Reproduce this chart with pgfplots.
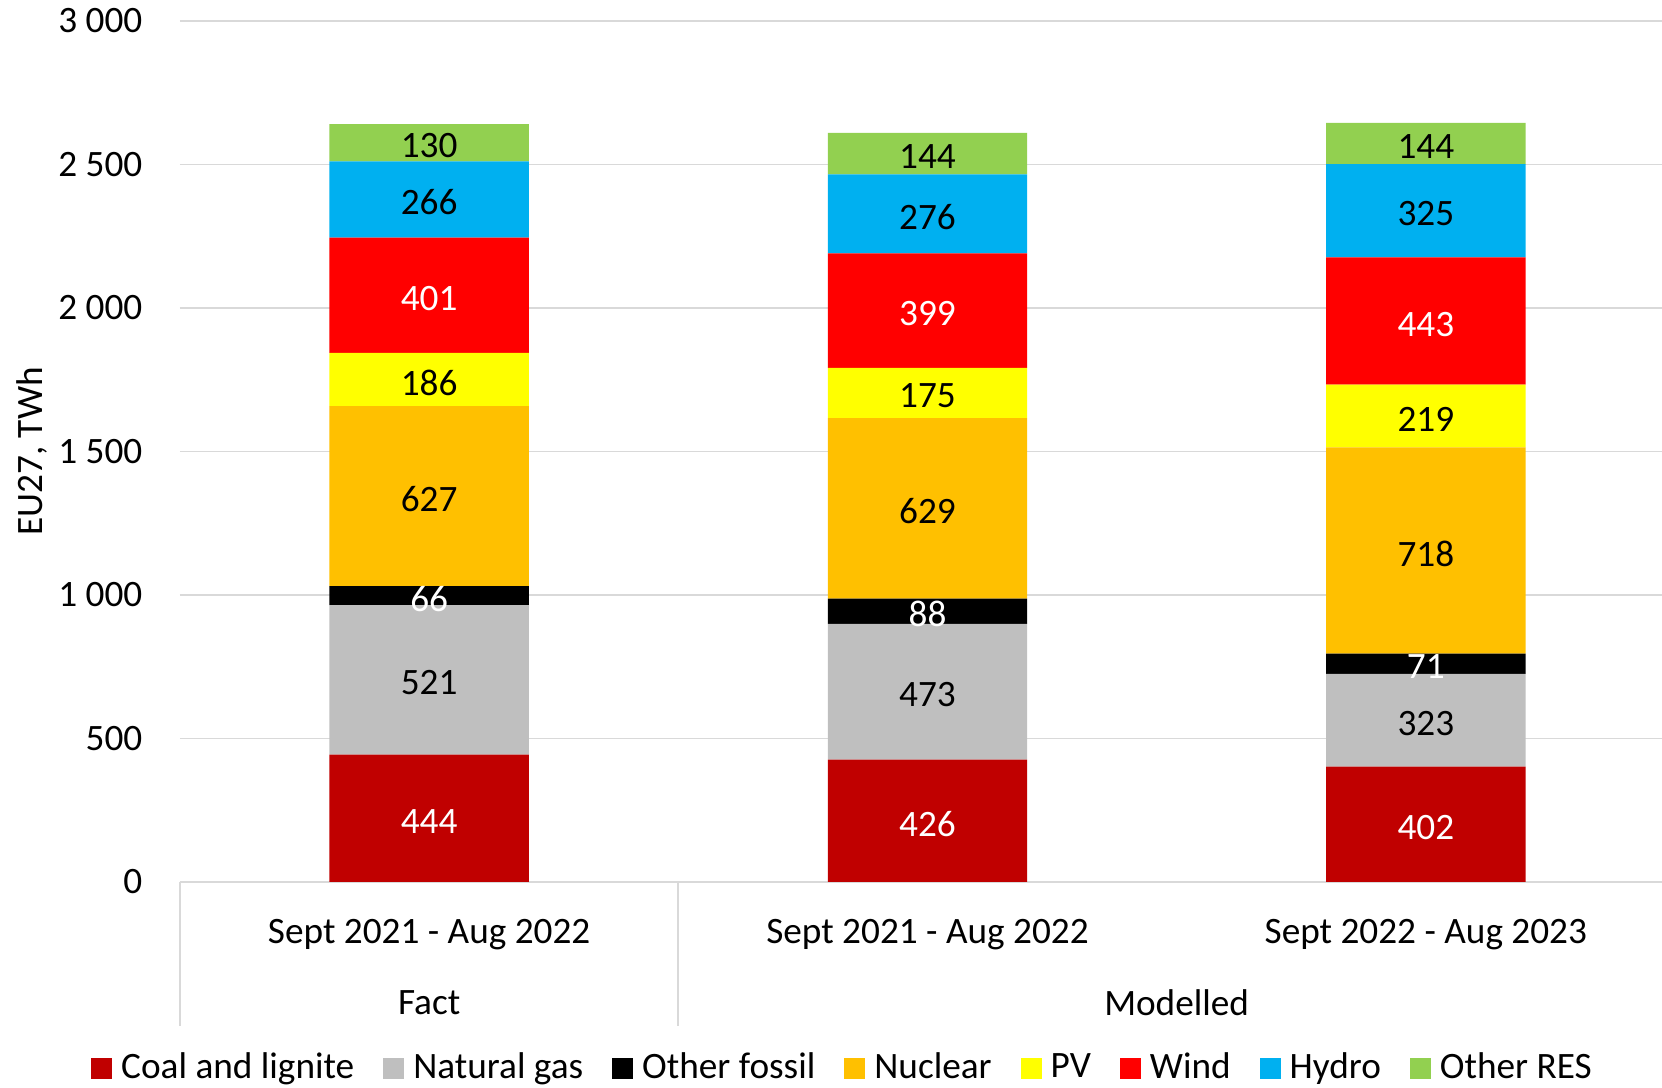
\documentclass[border=0pt]{standalone}
\usepackage{fontspec}
\setmainfont{Carlito}
\usepackage{pgfplots}
\pgfplotsset{compat=1.18}
\definecolor{cCoal}{HTML}{C00000}
\definecolor{cGas}{HTML}{BFBFBF}
\definecolor{cFossil}{HTML}{000000}
\definecolor{cNuc}{HTML}{FFC000}
\definecolor{cPV}{HTML}{FFFF00}
\definecolor{cWind}{HTML}{FF0000}
\definecolor{cHydro}{HTML}{00B0F0}
\definecolor{cRES}{HTML}{92D050}
\definecolor{gridc}{HTML}{D9D9D9}
\pgfplotsset{
  common/.style={
    at={(18mm,20.6mm)}, anchor=south west,
    width=149.5mm, height=86.1mm, scale only axis,
    xmin=-0.5, xmax=2.5, ymin=0, ymax=3000,
  },
  lbl/.style={draw=none, mark=none, nodes near coords, point meta=explicit symbolic,
    every node near coord/.append style={anchor=center, text=#1, inner sep=0pt, yshift=-0.3mm}},
}
\begin{document}
\fontsize{10.6pt}{12.7pt}\selectfont
\begin{tikzpicture}
\path[use as bounding box] (0,0) rectangle (166.2mm,108.8mm);
\begin{axis}[common,
  ybar stacked, bar width=0.4,
  clip=false,
  axis x line*=bottom, axis y line*=left,
  x axis line style={draw=gridc, line width=0.5pt},
  y axis line style={draw=none},
  ymajorgrids, grid style={draw=gridc, line width=0.5pt},
  major tick length=0pt,
  ytick={0,500,1000,1500,2000,2500,3000},
  yticklabels={0,500,1 000,1 500,2 000,2 500,3 000},
  yticklabel style={anchor=east, inner sep=0pt, xshift=-3.7mm},
  xtick={0,1,2},
  xticklabels={Sept 2021 - Aug 2022,Sept 2021 - Aug 2022,Sept 2022 - Aug 2023},
  xticklabel style={anchor=center, inner sep=0pt, yshift=-5.3mm},
  ylabel={EU27, TWh},
  every axis y label/.style={at={(rel axis cs:0,0.5)}, xshift=-14.8mm, rotate=90, anchor=center},
  legend columns=-1,
  legend style={draw=none, at={(rel axis cs:0.4455,-0.217)}, anchor=center,
    /tikz/every even column/.append style={column sep=2mm},
    nodes={inner xsep=0.9mm, inner ysep=0pt}},
  legend image code/.code={\fill[#1] (0mm,-1.05mm) rectangle (2.1mm,1.05mm);},
]
\addplot[fill=cCoal, draw=none] coordinates {(0,444) (1,426) (2,402)};
\addlegendentry{Coal and lignite}
\addplot[fill=cGas, draw=none] coordinates {(0,521) (1,473) (2,323)};
\addlegendentry{Natural gas}
\addplot[fill=cFossil, draw=none] coordinates {(0,66) (1,88) (2,71)};
\addlegendentry{Other fossil}
\addplot[fill=cNuc, draw=none] coordinates {(0,627) (1,629) (2,718)};
\addlegendentry{Nuclear}
\addplot[fill=cPV, draw=none] coordinates {(0,186) (1,175) (2,219)};
\addlegendentry{PV}
\addplot[fill=cWind, draw=none] coordinates {(0,401) (1,399) (2,443)};
\addlegendentry{Wind}
\addplot[fill=cHydro, draw=none] coordinates {(0,266) (1,276) (2,325)};
\addlegendentry{Hydro}
\addplot[fill=cRES, draw=none] coordinates {(0,130) (1,144) (2,144)};
\addlegendentry{Other RES}
\draw[gridc, line width=0.5pt] (axis cs:-0.5,0) -- ([yshift=-14.4mm]axis cs:-0.5,0);
\draw[gridc, line width=0.5pt] (axis cs:0.5,0) -- ([yshift=-14.4mm]axis cs:0.5,0);
\draw[gridc, line width=0.5pt] (axis cs:2.5,0) -- ([yshift=-14.4mm]axis cs:2.5,0);
\node[anchor=center] at ([yshift=-12.1mm]axis cs:0,0) {Fact};
\node[anchor=center] at ([yshift=-12.1mm]axis cs:1.5,0) {Modelled};
\end{axis}
\begin{axis}[common, hide axis, clip=false]
\addplot[lbl=white] coordinates {(0,222)[444] (1,213)[426] (2,201)[402]};
\addplot[lbl=black] coordinates {(0,704.5)[521] (1,662.5)[473] (2,563.5)[323]};
\addplot[lbl=white] coordinates {(0,998)[66] (1,943)[88] (2,760.5)[71]};
\addplot[lbl=black] coordinates {(0,1344.5)[627] (1,1301.5)[629] (2,1155)[718]};
\addplot[lbl=black] coordinates {(0,1751)[186] (1,1703.5)[175] (2,1623.5)[219]};
\addplot[lbl=white] coordinates {(0,2044.5)[401] (1,1990.5)[399] (2,1954.5)[443]};
\addplot[lbl=black] coordinates {(0,2378)[266] (1,2328)[276] (2,2338.5)[325]};
\addplot[lbl=black] coordinates {(0,2576)[130] (1,2538)[144] (2,2573)[144]};
\end{axis}
\end{tikzpicture}
\end{document}
